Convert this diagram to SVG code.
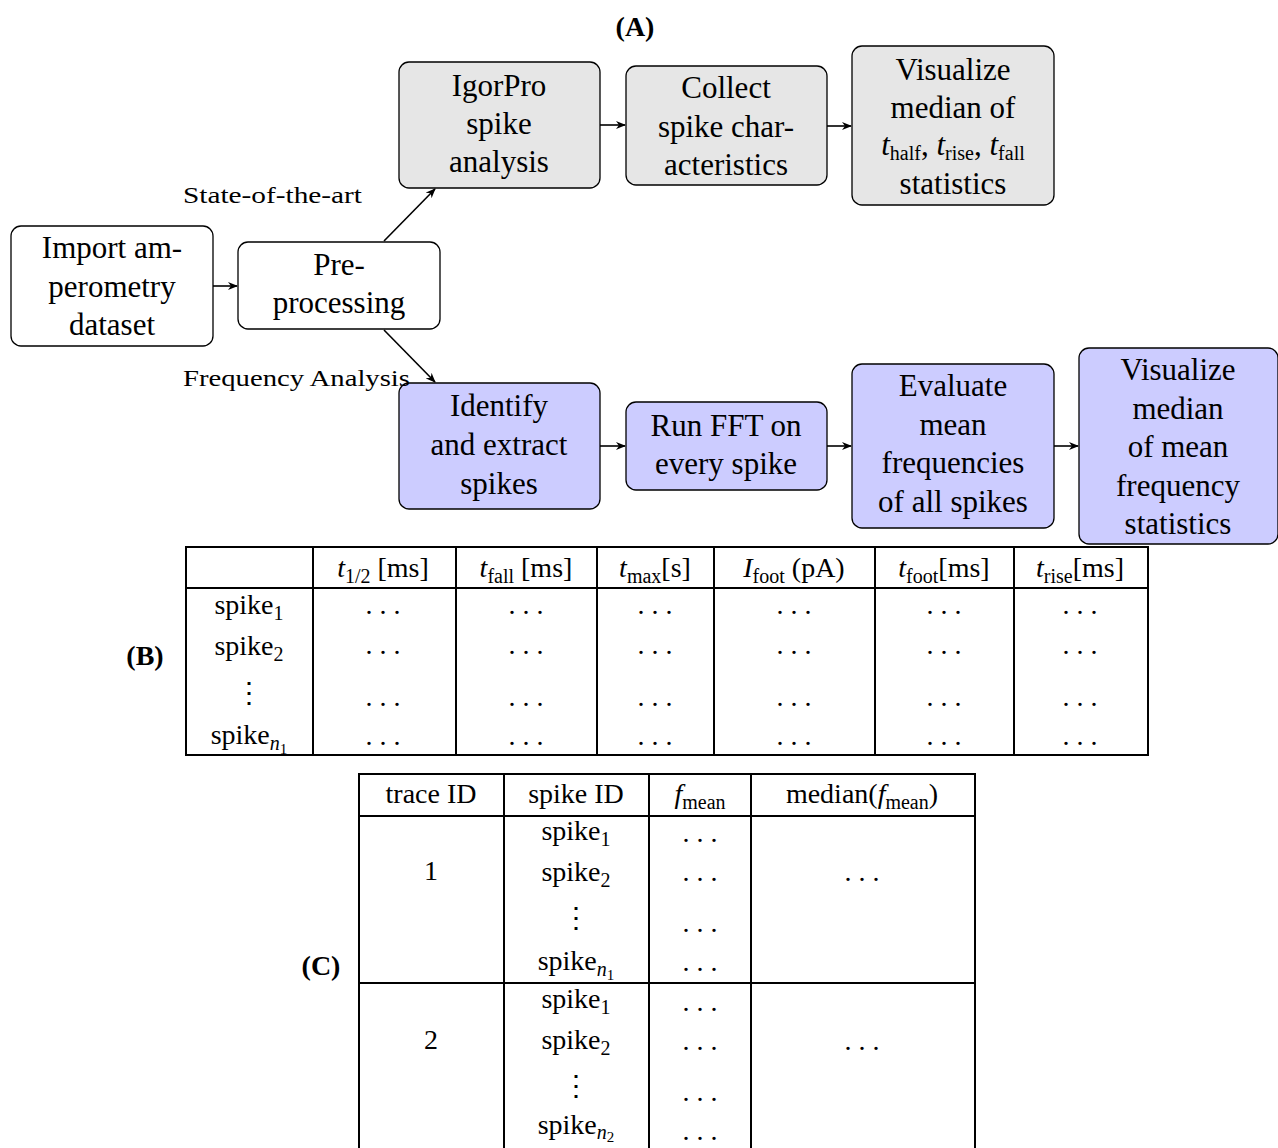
<svg xmlns="http://www.w3.org/2000/svg" width="1278" height="1148" viewBox="0 0 1278 1148">
<style>
text{font-family:"Liberation Serif","DejaVu Serif",serif;fill:#000}
.n{font-size:31px;text-anchor:middle}
.lbl{font-size:24px}
.t{font-size:28px;text-anchor:middle}
.sub{font-size:20px}
.ssub{font-size:15px}
.i{font-style:italic}
.b{font-weight:bold;font-size:28px;text-anchor:middle}
.box{stroke:#000;stroke-width:1.3}
.gray{fill:#e6e6e6}
.blue{fill:#ccccff}
.white{fill:#fff}
.c{stroke:#000;stroke-width:1.6;fill:none}
.tl{stroke:#000;stroke-width:2;fill:none}
.dots{font-size:28px;text-anchor:middle}
</style>
<defs>
<marker id="ah" markerWidth="10" markerHeight="8" refX="9" refY="4" orient="auto" markerUnits="userSpaceOnUse">
<path d="M0,0 L10,4 L0,8 L3,4 Z" fill="#000"/>
</marker>
</defs>
<rect width="1278" height="1148" fill="#fff"/>

<text class="b" x="635" y="36">(A)</text>

<g id="import"><rect class="box white" x="11" y="226" width="202" height="120" rx="10"/>
<text class="n" x="112" y="258">Import am-</text><text class="n" x="112" y="297">perometry</text><text class="n" x="112" y="335">dataset</text></g>

<g id="preprocessing"><rect class="box white" x="238" y="242" width="202" height="87" rx="10"/>
<text class="n" x="339" y="275">Pre-</text><text class="n" x="339" y="313">processing</text></g>

<g id="igorpro"><rect class="box gray" x="399" y="62" width="201" height="126" rx="10"/>
<text class="n" x="499" y="96">IgorPro</text><text class="n" x="499" y="134">spike</text><text class="n" x="499" y="172">analysis</text></g>

<g id="collect"><rect class="box gray" x="626" y="66" width="201" height="119" rx="10"/>
<text class="n" x="726" y="98">Collect</text><text class="n" x="726" y="137">spike char-</text><text class="n" x="726" y="175">acteristics</text></g>

<g id="visualize1"><rect class="box gray" x="852" y="46" width="202" height="159" rx="10"/>
<text class="n" x="953" y="80">Visualize</text><text class="n" x="953" y="118">median of</text>
<text class="n" x="953" y="155"><tspan class="i">t</tspan><tspan class="sub" dy="5">half</tspan><tspan dy="-5">, </tspan><tspan class="i">t</tspan><tspan class="sub" dy="5">rise</tspan><tspan dy="-5">, </tspan><tspan class="i">t</tspan><tspan class="sub" dy="5">fall</tspan></text>
<text class="n" x="953" y="194">statistics</text></g>

<g id="identify"><rect class="box blue" x="399" y="383" width="201" height="126" rx="10"/>
<text class="n" x="499" y="416">Identify</text><text class="n" x="499" y="455">and extract</text><text class="n" x="499" y="494">spikes</text></g>

<g id="fft"><rect class="box blue" x="626" y="402" width="201" height="88" rx="10"/>
<text class="n" x="726" y="436">Run FFT on</text><text class="n" x="726" y="474">every spike</text></g>

<g id="evaluate"><rect class="box blue" x="852" y="364" width="202" height="164" rx="10"/>
<text class="n" x="953" y="396">Evaluate</text><text class="n" x="953" y="435">mean</text><text class="n" x="953" y="473">frequencies</text><text class="n" x="953" y="512">of all spikes</text></g>

<g id="visualize2"><rect class="box blue" x="1079" y="348" width="199" height="196" rx="10"/>
<text class="n" x="1178" y="380">Visualize</text><text class="n" x="1178" y="419">median</text><text class="n" x="1178" y="457">of mean</text><text class="n" x="1178" y="496">frequency</text><text class="n" x="1178" y="534">statistics</text></g>

<g id="connectors">
<line class="c" x1="213" y1="286" x2="237" y2="286" marker-end="url(#ah)"/>
<line class="c" x1="384" y1="241" x2="435" y2="189" marker-end="url(#ah)"/>
<line class="c" x1="384" y1="330" x2="435" y2="382" marker-end="url(#ah)"/>
<line class="c" x1="600" y1="125" x2="625" y2="125" marker-end="url(#ah)"/>
<line class="c" x1="827" y1="126" x2="851" y2="126" marker-end="url(#ah)"/>
<line class="c" x1="600" y1="446" x2="625" y2="446" marker-end="url(#ah)"/>
<line class="c" x1="827" y1="446" x2="851" y2="446" marker-end="url(#ah)"/>
<line class="c" x1="1054" y1="446" x2="1078" y2="446" marker-end="url(#ah)"/>
<text class="lbl" x="183" y="203" textLength="179" lengthAdjust="spacingAndGlyphs">State-of-the-art</text>
<text class="lbl" x="183" y="386" textLength="227" lengthAdjust="spacingAndGlyphs">Frequency Analysis</text>
</g>

<g id="tableB">
<text class="b" x="145" y="665">(B)</text>
<rect class="tl" x="186" y="547" width="962" height="208"/>
<line class="tl" x1="186" y1="588" x2="1148" y2="588"/>
<line class="tl" x1="313" y1="547" x2="313" y2="755"/>
<line class="tl" x1="456" y1="547" x2="456" y2="755"/>
<line class="tl" x1="597" y1="547" x2="597" y2="755" stroke-width="3"/>
<line class="tl" x1="714" y1="547" x2="714" y2="755"/>
<line class="tl" x1="875" y1="547" x2="875" y2="755"/>
<line class="tl" x1="1014" y1="547" x2="1014" y2="755"/>
<text class="t" x="383" y="577"><tspan class="i">t</tspan><tspan class="sub" dy="6">1/2</tspan><tspan dy="-6"> [ms]</tspan></text>
<text class="t" x="526" y="577"><tspan class="i">t</tspan><tspan class="sub" dy="6">fall</tspan><tspan dy="-6"> [ms]</tspan></text>
<text class="t" x="655" y="577"><tspan class="i">t</tspan><tspan class="sub" dy="6">max</tspan><tspan dy="-6">[s]</tspan></text>
<text class="t" x="794" y="577"><tspan class="i">I</tspan><tspan class="sub" dy="6">foot</tspan><tspan dy="-6"> (pA)</tspan></text>
<text class="t" x="944" y="577"><tspan class="i">t</tspan><tspan class="sub" dy="6">foot</tspan><tspan dy="-6">[ms]</tspan></text>
<text class="t" x="1080" y="577"><tspan class="i">t</tspan><tspan class="sub" dy="6">rise</tspan><tspan dy="-6">[ms]</tspan></text>
<text class="t" x="249" y="614">spike<tspan class="sub" dy="6">1</tspan></text>
<text class="t" x="249" y="655">spike<tspan class="sub" dy="6">2</tspan></text>
<text class="t" x="249" y="702">⋮</text>
<text class="t" x="249" y="744">spike<tspan class="sub i" dy="6">n</tspan><tspan class="ssub" dy="4">1</tspan></text>
<g class="dots">
<text x="383" y="614">. . .</text><text x="526" y="614">. . .</text><text x="655" y="614">. . .</text><text x="794" y="614">. . .</text><text x="944" y="614">. . .</text><text x="1080" y="614">. . .</text>
<text x="383" y="654">. . .</text><text x="526" y="654">. . .</text><text x="655" y="654">. . .</text><text x="794" y="654">. . .</text><text x="944" y="654">. . .</text><text x="1080" y="654">. . .</text>
<text x="383" y="706">. . .</text><text x="526" y="706">. . .</text><text x="655" y="706">. . .</text><text x="794" y="706">. . .</text><text x="944" y="706">. . .</text><text x="1080" y="706">. . .</text>
<text x="383" y="745">. . .</text><text x="526" y="745">. . .</text><text x="655" y="745">. . .</text><text x="794" y="745">. . .</text><text x="944" y="745">. . .</text><text x="1080" y="745">. . .</text>
</g>
</g>

<g id="tableC">
<text class="b" x="321" y="975">(C)</text>
<path class="tl" d="M359,1150 V774 H975 V1150"/>
<line class="tl" x1="359" y1="816" x2="975" y2="816"/>
<line class="tl" x1="359" y1="983" x2="975" y2="983" stroke-width="3"/>
<line class="tl" x1="504" y1="774" x2="504" y2="1150"/>
<line class="tl" x1="649" y1="774" x2="649" y2="1150"/>
<line class="tl" x1="751" y1="774" x2="751" y2="1150"/>
<text class="t" x="431" y="803">trace ID</text>
<text class="t" x="576" y="803">spike ID</text>
<text class="t" x="700" y="803"><tspan class="i">f</tspan><tspan class="sub" dy="6">mean</tspan></text>
<text class="t" x="862" y="803">median(<tspan class="i">f</tspan><tspan class="sub" dy="6">mean</tspan><tspan dy="-6">)</tspan></text>
<text class="t" x="431" y="880">1</text>
<text class="t" x="431" y="1049">2</text>
<text class="t" x="576" y="840">spike<tspan class="sub" dy="6">1</tspan></text>
<text class="t" x="576" y="881">spike<tspan class="sub" dy="6">2</tspan></text>
<text class="t" x="576" y="927">⋮</text>
<text class="t" x="576" y="970">spike<tspan class="sub i" dy="6">n</tspan><tspan class="ssub" dy="4">1</tspan></text>
<text class="t" x="576" y="1008">spike<tspan class="sub" dy="6">1</tspan></text>
<text class="t" x="576" y="1049">spike<tspan class="sub" dy="6">2</tspan></text>
<text class="t" x="576" y="1095">⋮</text>
<text class="t" x="576" y="1134">spike<tspan class="sub i" dy="5">n</tspan><tspan class="ssub" dy="3">2</tspan></text>
<g class="dots">
<text x="700" y="842">. . .</text><text x="700" y="881">. . .</text><text x="700" y="932">. . .</text><text x="700" y="971">. . .</text>
<text x="700" y="1011">. . .</text><text x="700" y="1050">. . .</text><text x="700" y="1101">. . .</text><text x="700" y="1140">. . .</text>
<text x="862" y="881">. . .</text><text x="862" y="1050">. . .</text>
</g>
</g>
</svg>
